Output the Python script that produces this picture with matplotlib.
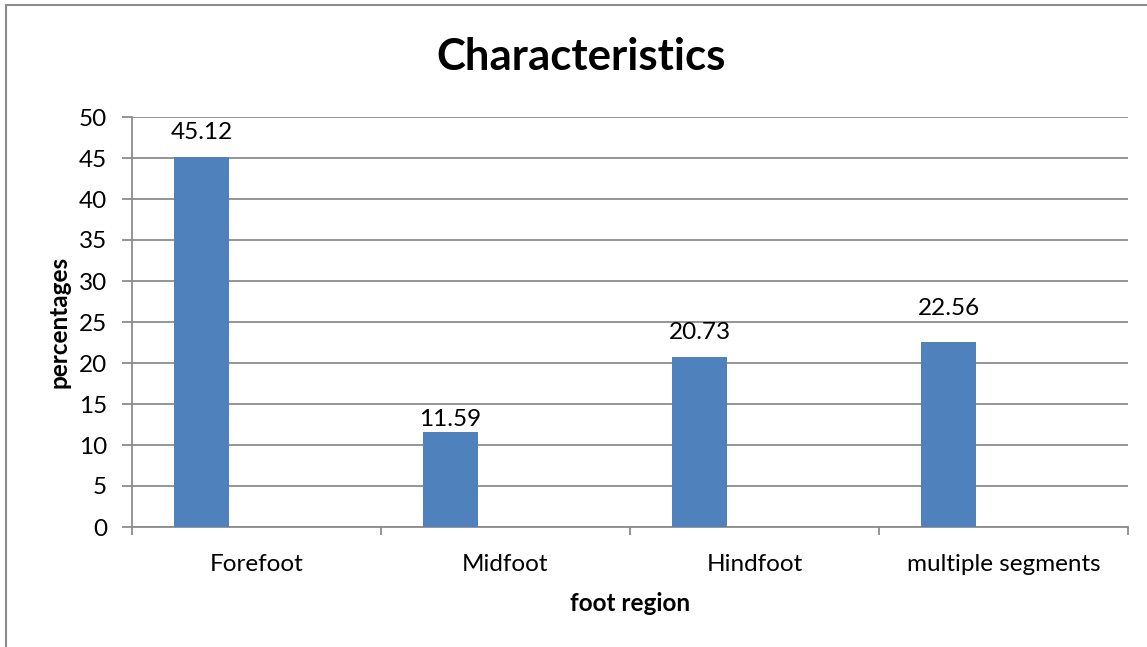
import matplotlib.pyplot as plt
from matplotlib.lines import Line2D

plt.rcParams["font.family"] = ["Lato", "DejaVu Sans"]

categories = ["Forefoot", "Midfoot", "Hindfoot", "multiple segments"]
values = [45.12, 11.59, 20.73, 22.56]
yticks = [0, 5, 10, 15, 20, 25, 30, 35, 40, 45, 50]
# data labels were nudged by hand in the original, gap above bar in px
label_gap_px = [18, 6, 18, 27]

BAR = "#4F81BD"
GRID = "#8C8C8C"
FS = 17.5

fig = plt.figure(figsize=(11.47, 6.47), dpi=100)
ax = fig.add_axes([132 / 1147, 1 - 527 / 647, 996 / 1147, 410 / 647])

# first of three series in each cluster (other two are empty), gap ~150%
w = 55 / 249
x = [i - 0.5 + 69.5 / 249 for i in range(len(categories))]
ax.bar(x, values, width=w, color=BAR, zorder=3)
for xi, v, g in zip(x, values, label_gap_px):
    ax.annotate(f"{v:.2f}", (xi, v), xytext=(0, g * 0.72), textcoords="offset points",
                ha="center", va="baseline", fontsize=FS)

ax.set_xlim(-0.5, 3.5)
ax.set_ylim(0, 50)
ax.set_yticks(yticks)
ax.set_yticklabels([str(t) for t in yticks], fontsize=FS)
ax.yaxis.grid(True, color=GRID, linewidth=1.3, zorder=0)
ax.set_axisbelow(True)

ax.set_xticks([-0.5, 0.5, 1.5, 2.5, 3.5])
ax.set_xticklabels([])
ax.set_xticks(range(len(categories)), minor=True)
ax.set_xticklabels(categories, minor=True, fontsize=FS)
ax.tick_params(axis="x", which="minor", length=0, pad=19.5)
ax.tick_params(axis="x", which="major", length=6, width=1.3, color=GRID)
ax.tick_params(axis="y", length=7, width=1.3, color=GRID, pad=11)

for s in ["top", "right"]:
    ax.spines[s].set_visible(False)
for s in ["left", "bottom"]:
    ax.spines[s].set_color(GRID)
    ax.spines[s].set_linewidth(1.3)

ax.set_xlabel("foot region", fontsize=FS, fontweight="bold", labelpad=12)
ax.set_ylabel("percentages", fontsize=FS, fontweight="bold", labelpad=6)
fig.text(581 / 1147, 1 - 57 / 647, "Characteristics", ha="center", va="center",
         fontsize=31.5, fontweight="bold")

# chart frame
fig.add_artist(Line2D([6 / 1147, 6 / 1147], [0, 1 - 5 / 647], transform=fig.transFigure,
                      color=GRID, linewidth=1.5))
fig.add_artist(Line2D([6 / 1147, 1], [1 - 5 / 647, 1 - 5 / 647], transform=fig.transFigure,
                      color=GRID, linewidth=1.5))

fig.savefig("out.png", dpi=100)
